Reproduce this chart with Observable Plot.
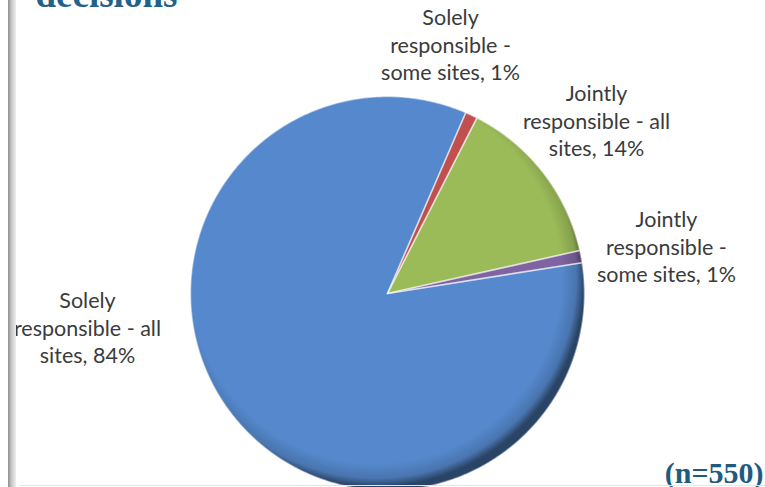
<!DOCTYPE html>
<html><head><meta charset="utf-8">
<script src="https://cdn.jsdelivr.net/npm/d3@7"></script>
<script src="https://cdn.jsdelivr.net/npm/@observablehq/plot@0.6"></script>
<style>
body{margin:0;background:#fff;}
#wrap{position:relative;width:765px;height:487px;overflow:hidden;background:#fff;}
#bar{position:absolute;left:8px;top:0;width:8px;height:487px;background:linear-gradient(to right,#8f8f8f,#c8c8c8 45%,#eeeeee);z-index:2;}
#base{position:absolute;left:20px;right:0;top:485px;height:1px;background:#e6e6e6;z-index:2;}
</style></head><body><div id="wrap"><div id="bar"></div><div id="base"></div></div>
<script>
// ---- data ----
const categories = ["Solely responsible - some sites","Jointly responsible - all sites","Jointly responsible - some sites","Solely responsible - all sites"];
const shares = [1, 14, 1, 84];
const labelTexts = ["Solely\nresponsible -\nsome sites, 1%","Jointly\nresponsible - all\nsites, 14%","Jointly\nresponsible -\nsome sites, 1%","Solely\nresponsible - all\nsites, 84%"];
const colors = ["#c0504d","#9bbb59","#8064a2","#5588cc"];
const title = "decisions";
const note = "(n=550)";

// ---- layout ----
const W = 765, H = 487;
const cx = 387, cy = 293, R = 197;           // pie centre / radius in pixels
const startDeg = 23.4;                        // first slice begins here (clockwise from 12 o'clock)
// label centres expressed relative to the pie (units of radius)
const labelAnchor = [[0.32, 1.254],[1.061, 0.868],[1.416, 0.228],[-1.523, -0.183]];

const pie = d3.pie().sort(null).value(d => d.v)
  .startAngle(startDeg * Math.PI / 180).endAngle(startDeg * Math.PI / 180 + 2 * Math.PI);
const arcs = pie(categories.map((c, i) => ({c, v: shares[i]})));

const pts = [];
arcs.forEach(a => {
  pts.push({slice: a.data.c, x: 0, y: 0});
  const n = Math.max(4, Math.ceil((a.endAngle - a.startAngle) / (Math.PI / 360)));
  for (let k = 0; k <= n; k++) {
    const t = a.startAngle + (a.endAngle - a.startAngle) * k / n;
    pts.push({slice: a.data.c, x: Math.sin(t), y: Math.cos(t)});
  }
  pts.push({slice: a.data.c, x: 0, y: 0});
});
const circle = d3.range(0, 361, 1).map(d => ({x: Math.sin(d * Math.PI / 180), y: Math.cos(d * Math.PI / 180)}));
const labels = categories.map((c, i) => ({c, t: labelTexts[i], x: labelAnchor[i][0], y: labelAnchor[i][1]}));

const chart = Plot.plot({
  width: W, height: H,
  margin: 0,
  style: {background: "transparent", overflow: "visible"},
  x: {domain: [-cx / R, (W - cx) / R], axis: null},
  y: {domain: [-(H - cy) / R, cy / R], axis: null},
  color: {domain: categories, range: colors},
  marks: [
    Plot.line(pts, {x: "x", y: "y", z: "slice", fill: "slice", stroke: "none", curve: "linear"}),
    Plot.line(circle, {x: "x", y: "y", fill: "url(#rim)", stroke: "none"}),
    Plot.line(pts, {x: "x", y: "y", z: "slice", stroke: "white", strokeOpacity: 0.45, strokeWidth: 1.6, fill: "none", strokeLinejoin: "round"}),
    Plot.text(labels, {x: "x", y: "y", text: "t", dy: -2.5, fontFamily: "Lato, 'Open Sans', sans-serif", fontSize: 21.5, lineHeight: 1.28, fill: "#3b3b3b"}),
    Plot.text([title], {frameAnchor: "top-left", text: d => d, textAnchor: "start", lineAnchor: "bottom", dx: 35, dy: 6,
      fontFamily: "'Liberation Serif', 'DejaVu Serif', serif", fontWeight: "bold", fontSize: 37, fill: "#22628a"}),
    Plot.text([note], {frameAnchor: "bottom-right", text: d => d, textAnchor: "end", lineAnchor: "bottom", dx: -2, dy: -5,
      fontFamily: "'Liberation Serif', 'DejaVu Serif', serif", fontWeight: "bold", fontSize: 30, fill: "#1f5b80"})
  ]
});

const svg = d3.select(chart.tagName.toLowerCase() === "svg" ? chart : chart.querySelector("svg"));
const defs = svg.insert("defs", ":first-child");
const rim = defs.append("radialGradient").attr("id", "rim").attr("cx", "0.47").attr("cy", "0.46").attr("r", "0.53");
rim.append("stop").attr("offset", "0.89").attr("stop-color", "#000").attr("stop-opacity", 0);
rim.append("stop").attr("offset", "0.96").attr("stop-color", "#000").attr("stop-opacity", 0.14);
rim.append("stop").attr("offset", "1").attr("stop-color", "#000").attr("stop-opacity", 0.5);

document.getElementById("wrap").appendChild(chart);
chart.style.position = "absolute";
chart.style.left = "0px";
chart.style.top = "0px";
</script>
</body></html>
